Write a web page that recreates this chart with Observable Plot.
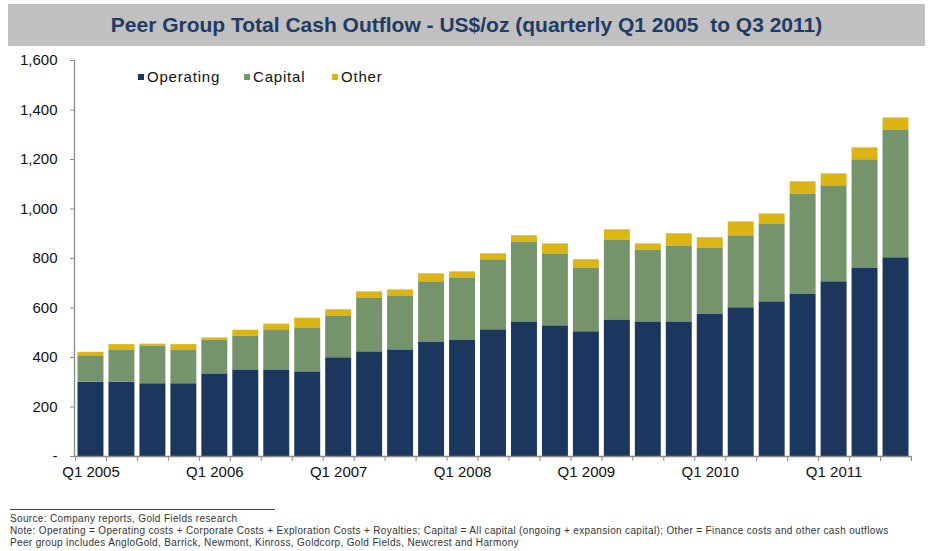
<!DOCTYPE html>
<html><head><meta charset="utf-8">
<script src="https://cdn.jsdelivr.net/npm/d3@7"></script>
<script src="https://cdn.jsdelivr.net/npm/@observablehq/plot@0.6"></script>
<style>
body{margin:0;background:#fff;width:928px;height:551px;overflow:hidden;position:relative;font-family:"Liberation Sans",Arial,sans-serif}
#title{position:absolute;left:8px;top:4px;width:917px;height:42px;background:#c0c0c0;display:flex;align-items:center;justify-content:center;font-family:"Liberation Sans Narrow","Liberation Sans",sans-serif;font-weight:bold;font-size:21px;color:#1f3b66;white-space:pre}
#chart{position:absolute;left:0;top:50px}
.lg{position:absolute;top:68px;font-size:15px;letter-spacing:0.8px;color:#111;white-space:nowrap;line-height:18px}
.sw{position:absolute;top:6px;width:6px;height:6px}
#foot{position:absolute;left:10px;top:509px;font-size:10px;letter-spacing:0.35px;color:#333;line-height:12px;white-space:nowrap}
#foot .rule{width:265px;border-top:1px solid #444;margin-bottom:3px}
</style></head>
<body>
<div id="title">Peer Group Total Cash Outflow - US$/oz (quarterly Q1 2005  to Q3 2011)</div>
<div id="chart"></div>
<div id="legendbox"></div>
<div id="foot">
<div class="rule"></div>
<div>Source: Company reports, Gold Fields research</div>
<div>Note: Operating = Operating costs + Corporate Costs + Exploration Costs + Royalties; Capital = All capital (ongoing + expansion capital); Other = Finance costs and other cash outflows</div>
<div>Peer group includes AngloGold, Barrick, Newmont, Kinross, Goldcorp, Gold Fields, Newcrest and Harmony</div>
</div>
<script>
const quarters = [
 "Q1 2005","Q2 2005","Q3 2005","Q4 2005",
 "Q1 2006","Q2 2006","Q3 2006","Q4 2006",
 "Q1 2007","Q2 2007","Q3 2007","Q4 2007",
 "Q1 2008","Q2 2008","Q3 2008","Q4 2008",
 "Q1 2009","Q2 2009","Q3 2009","Q4 2009",
 "Q1 2010","Q2 2010","Q3 2010","Q4 2010",
 "Q1 2011","Q2 2011","Q3 2011"];
const operating = [300,300,294,294,334,350,350,342,399,423,431,463,471,512,544,528,504,552,544,544,576,601,625,657,706,762,803];
const capital   = [107,131,153,137,137,137,162,178,169,218,218,243,251,283,323,291,258,323,291,307,267,291,315,404,388,437,517];
const other     = [14,21,7,21,8,23,23,39,25,24,24,32,24,24,25,40,33,41,24,49,41,56,40,49,48,48,48];
const seriesNames = ["Operating","Capital","Other"];
const seriesColors = ["#1b375e","#76946b","#dbb516"];
const yTicks = [0,200,400,600,800,1000,1200,1400,1600];
const xTickLabels = ["Q1 2005","Q1 2006","Q1 2007","Q1 2008","Q1 2009","Q1 2010","Q1 2011"];

const seriesValues = [operating, capital, other];
const rows = [];
quarters.forEach((q, i) => {
  let base = 0;
  seriesValues.forEach((vals, s) => {
    rows.push({i, i1: i + 1, quarter: q, series: seriesNames[s], y1: base, y2: base + vals[i]});
    base += vals[i];
  });
});
const labelPos = xTickLabels.map(l => quarters.indexOf(l) + 0.5);

const chart = Plot.plot({
  width: 928, height: 440,
  marginTop: 10, marginBottom: 34, marginLeft: 75, marginRight: 17,
  style: {fontFamily: '"Liberation Sans", Arial, sans-serif', fontSize: "15px", color: "#111", background: "transparent"},
  x: {domain: [0, quarters.length], axis: null},
  y: {domain: [0, 1600], axis: null},
  color: {domain: seriesNames, range: seriesColors},
  marks: [
    Plot.rect(rows, {x1: "i", x2: "i1", y1: "y1", y2: "y2", fill: "series", insetLeft: 2.5, insetRight: 2.5}),
    Plot.ruleY([0], {stroke: "#8a8a8a", strokeWidth: 1.3}),
    Plot.ruleX([0], {stroke: "#8a8a8a", strokeWidth: 1.3, dx: -1}),
    Plot.axisY({ticks: yTicks, tickSize: 5, tickPadding: 13, stroke: "#8a8a8a",
      tickFormat: d => d === 0 ? "-" : d3.format(",")(d), fill: "#111"}),
    Plot.axisX({ticks: d3.range(quarters.length + 1), tickSize: 5, tickFormat: () => "", stroke: "#8a8a8a"}),
    Plot.axisX({ticks: labelPos, tickSize: 0, tickPadding: 10,
      tickFormat: d => xTickLabels[labelPos.indexOf(d)], fill: "#111"})
  ]
});
document.getElementById("chart").appendChild(chart);

const legendLeft = [138, 244, 332];
const lb = document.getElementById("legendbox");
seriesNames.forEach((n, k) => {
  const d = document.createElement("div");
  d.className = "lg";
  d.style.left = legendLeft[k] + "px";
  d.innerHTML = `<span class="sw" style="left:0;background:${seriesColors[k]}"></span><span style="margin-left:9px">${n}</span>`;
  lb.appendChild(d);
});
</script>
</body></html>
